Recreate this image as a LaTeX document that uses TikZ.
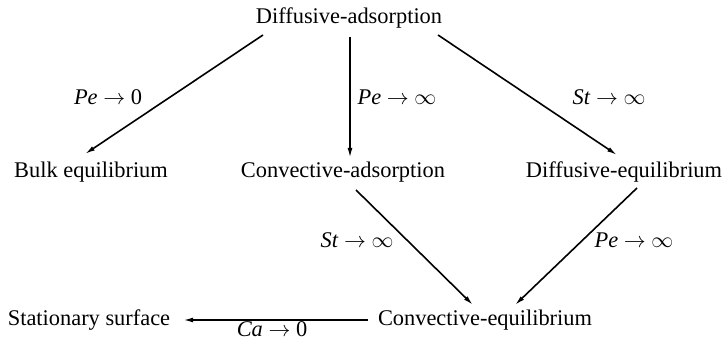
\documentclass[tikz,border=0pt]{standalone}
\usepackage{fontspec}
\setmainfont{Liberation Serif}
\usetikzlibrary{calc,arrows.meta}

\begin{document}
\begin{tikzpicture}[x=0.5pt, y=-0.5pt, >={Latex[length=5pt,width=2.4pt]}, line width=0.8pt,
  regime/.style={inner sep=0pt, font=\fontsize{11.2}{13}\selectfont},
  limit/.style={inner sep=0pt, font=\fontsize{11.2}{13}\selectfont}]
  \useasboundingbox (0,0) rectangle (722,341);

  % regimes
  \node[regime] (DA) at (349,18) {Diffusive-adsorption};
  \node[regime] (BE) at (91,172) {Bulk equilibrium};
  \node[regime] (CA) at (343,172) {Convective-adsorption};
  \node[regime] (DE) at (624,172) {Diffusive-equilibrium};
  \node[regime] (SS) at (89,320) {Stationary surface};
  \node[regime] (CE) at (485,320) {Convective-equilibrium};

  % limits
  \node[limit] (L1) at (108,97) {\textit{Pe} $\rightarrow$ 0};
  \node[limit] (L2) at (397,97) {\textit{Pe} $\rightarrow$ $\infty$};
  \node[limit] (L3) at (609,97) {\textit{St} $\rightarrow$ $\infty$};
  \node[limit] (L4) at (357,240) {\textit{St} $\rightarrow$ $\infty$};
  \node[limit] (L5) at (634,240) {\textit{Pe} $\rightarrow$ $\infty$};
  \node[limit] (L6) at (272,329) {\textit{Ca} $\rightarrow$ 0};

  \draw[->] ($(DA.center)+(-86,17)$) -- ($(BE.center)+(-6,-18)$);
  \draw[->] ($(DA.center)+(1,19)$) -- ($(CA.center)+(7,-14)$);
  \draw[->] ($(DA.center)+(89,17)$) -- ($(DE.center)+(-7,-17)$);
  \draw[->] ($(CA.center)+(13,18)$) -- ($(CE.center)+(-12,-15)$);
  \draw[->] ($(DE.center)+(13,16)$) -- ($(CE.center)+(30,-15)$);
  \draw[->] ($(CE.center)+(-117,0)$) -- ($(SS.center)+(94,0)$);
\end{tikzpicture}
\end{document}
